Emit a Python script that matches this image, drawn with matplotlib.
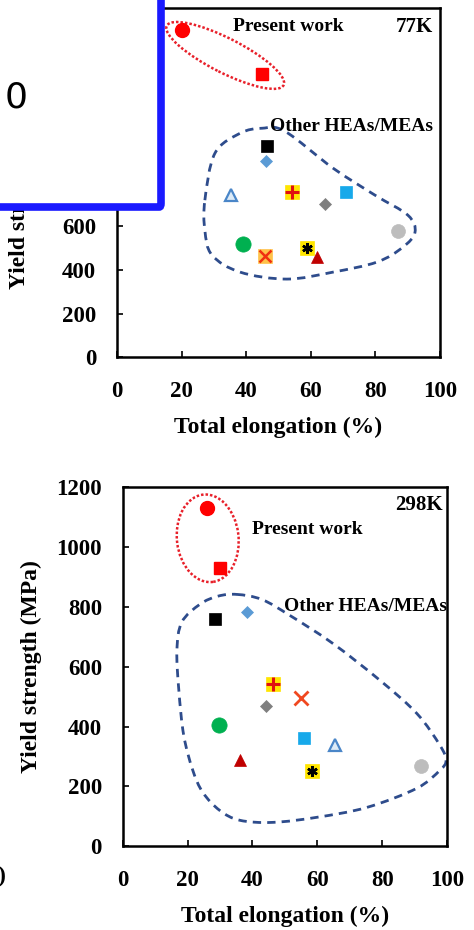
import numpy as np
import matplotlib
matplotlib.use('Agg')
from matplotlib import pyplot as plt
from matplotlib.path import Path
from matplotlib.patches import PathPatch, Ellipse, FancyBboxPatch

plt.rcParams['font.family'] = ['Liberation Serif', 'DejaVu Serif']
plt.rcParams['font.weight'] = 'bold'

# ---- data: 77K ----
present_elong_77 = [20, 45]
present_ys_77 = [1500, 1300]
other_elong_77 = [46.4, 46, 35.3, 54.2, 70.9, 64.4, 87, 39, 45.8, 58.8, 62]
other_ys_77 = [970, 900, 745, 757, 757, 701, 578, 518, 463, 500, 458]

# ---- data: 298K ----
present_elong_298 = [26, 30]
present_ys_298 = [1130, 930]
other_elong_298 = [28.5, 38.2, 65.6, 46.3, 55.8, 44.1, 91.9, 29.6, 55.1, 58.3, 36.2]
other_ys_298 = [759, 782, 338, 543, 361, 468, 270, 406, 497, 251, 289]

# outline of the "Other HEAs/MEAs" group (data coords)
group_x_77 = [27.2, 30.3, 38.1, 44.9, 52.0, 66.9, 79.9, 90.1, 92.3, 88.5, 80.5, 66.9, 52.6, 38.1, 29.4, 27.2]
group_y_77 = [720, 935, 1027, 1050, 1036, 867, 743, 651, 573, 504, 436, 390, 358, 390, 468, 582]
group_x_298 = [35.2, 42.9, 51.5, 64.8, 79.3, 90.7, 97.8, 99.7, 97.8, 90.7, 75.3, 59.9, 46.3, 36.1,
               29.9, 24.7, 21.6, 18.8, 17.3, 16.7, 18.2, 23.8, 29.3]
group_y_298 = [842, 825, 772, 678, 555, 444, 338, 287, 254, 194, 130, 97, 80, 87,
               120, 180, 254, 371, 521, 655, 749, 809, 836]

xticks = [0, 20, 40, 60, 80, 100]

# marker styles for the other alloys (same order as the data lists)
# each entry: list of layers (marker, size, face, edge, edge width)
styles_77 = [
    [('s', 8.5, 'black', 'black', 0.5)],
    [('D', 6, '#5B9BD5', '#5B9BD5', 0.5)],
    [('^', 9, '#DDEBF7', '#4A86C8', 1.6)],
    [('s', 10, '#FFE500', '#FFE500', 0.5), ('+', 10, 'none', '#E01010', 2.2)],
    [('s', 8.5, '#17A9EA', '#17A9EA', 0.5)],
    [('D', 6.5, '#7F7F7F', '#7F7F7F', 0.5)],
    [('o', 10, '#BDBDBD', '#BDBDBD', 0.5)],
    [('o', 11, '#00B050', '#00B050', 0.5)],
    [('s', 10, '#FFC24A', '#FFC24A', 0.5), ('x', 9, 'none', '#F03010', 1.8)],
    [('s', 9.5, '#FFE500', '#FFE500', 0.5), ((6, 2, 0), 7.5, 'none', 'black', 1.8)],
    [('^', 9, '#C00000', '#C00000', 0.5)],
]
styles_298 = list(styles_77)
styles_298[8] = [('x', 10, 'none', '#F04820', 2.0)]


def closed_curve(xs, ys):
    pts = np.column_stack([xs, ys]).astype(float)
    n = len(pts)
    verts = [pts[0]]
    codes = [Path.MOVETO]
    for i in range(n):
        p0, p1, p2, p3 = pts[i - 1], pts[i], pts[(i + 1) % n], pts[(i + 2) % n]
        verts += [p1 + (p2 - p0) / 6.0, p2 - (p3 - p1) / 6.0, p2]
        codes += [Path.CURVE4] * 3
    return Path(verts, codes)


def draw_panel(ax, pe, py, oe, oy, styles, gx, gy, ymax, temp, ell, txt):
    ax.set_xlim(0, 100)
    ax.set_ylim(0, ymax)
    ax.set_xticks(xticks)
    ax.set_yticks(np.arange(0, ymax + 1, 200))
    ax.tick_params(direction='in', length=4, width=1.2, labelsize=16.5)
    ax.tick_params(axis='x', pad=17)
    ax.tick_params(axis='y', pad=15)
    for s in ax.spines.values():
        s.set_linewidth(1.8)
    ax.set_xlabel('Total elongation (%)', fontsize=17, fontweight='bold', labelpad=11)
    ax.set_ylabel('Yield strength (MPa)', fontsize=17, fontweight='bold')

    # groups
    ax.add_patch(PathPatch(closed_curve(gx, gy), fill=False, edgecolor='#2E4C8C',
                           lw=2.0, linestyle=(0, (3, 2.2)), clip_on=False, zorder=2))
    (cx, cy), w, h, ang = ell
    ax.add_patch(Ellipse((cx, cy), w, h, angle=ang, transform=ax.transAxes, fill=False,
                         edgecolor='#E8202A', lw=1.8, linestyle=(0, (1, 0.8)), zorder=2))

    # present work
    ax.plot(pe[0], py[0], 'o', ms=10, color='#FF0000', zorder=4)
    ax.plot(pe[1], py[1], 's', ms=9, color='#FF0000', zorder=4)

    for x, y, layers in zip(oe, oy, styles):
        for m, ms, fc, ec, mew in layers:
            ax.plot(x, y, marker=m, ms=ms, mfc=fc, mec=ec, mew=mew, ls='none', zorder=4)

    (px, pyy), (ox, oyy), (tx, ty) = txt
    ax.text(px, pyy, 'Present work', transform=ax.transAxes, fontsize=14,
            fontweight='bold', va='center', ha='left')
    ax.text(ox, oyy, 'Other HEAs/MEAs', transform=ax.transAxes, fontsize=14,
            fontweight='bold', va='center', ha='right')
    ax.text(tx, ty, temp, transform=ax.transAxes, fontsize=15,
            fontweight='bold', va='center', ha='right')


fig = plt.figure(figsize=(4.74, 9.30), dpi=100)

ax1 = fig.add_axes([0.247, 0.616, 0.681, 0.375])
draw_panel(ax1, present_elong_77, present_ys_77, other_elong_77, other_ys_77, styles_77,
           group_x_77, group_y_77, 1600, '77K',
           ((0.335, 0.865), 0.40, 0.10, -25),
           ((0.36, 0.948), (0.98, 0.662), (0.978, 0.948)))
ax1.yaxis.set_label_coords(-0.27, 0.5)

ax2 = fig.add_axes([0.259, 0.090, 0.684, 0.386])
draw_panel(ax2, present_elong_298, present_ys_298, other_elong_298, other_ys_298, styles_298,
           group_x_298, group_y_298, 1200, '298K',
           ((0.262, 0.858), 0.19, 0.245, 8),
           ((0.398, 0.883), (1.0, 0.668), (0.988, 0.95)))
ax2.yaxis.set_label_coords(-0.25, 0.5)

# panel label cut at the left edge
fig.text(6 / 474, 1 - 876 / 930, '(b)', fontsize=17, fontweight='bold', ha='right', va='center')

# overlay box at the top-left
box = FancyBboxPatch((-20 / 474, 1 - 207 / 930), 181 / 474, 240 / 930,
                     boxstyle='round,pad=0,rounding_size=0.004', transform=fig.transFigure,
                     facecolor='white', edgecolor='#1A1AFF', lw=5.5, zorder=10)
fig.patches.append(box)
fig.text(16 / 474, 1 - 98 / 930, '0', fontsize=26, family='DejaVu Sans', fontweight='normal',
         ha='center', va='center', zorder=11)

fig.savefig('out.png', dpi=100)
